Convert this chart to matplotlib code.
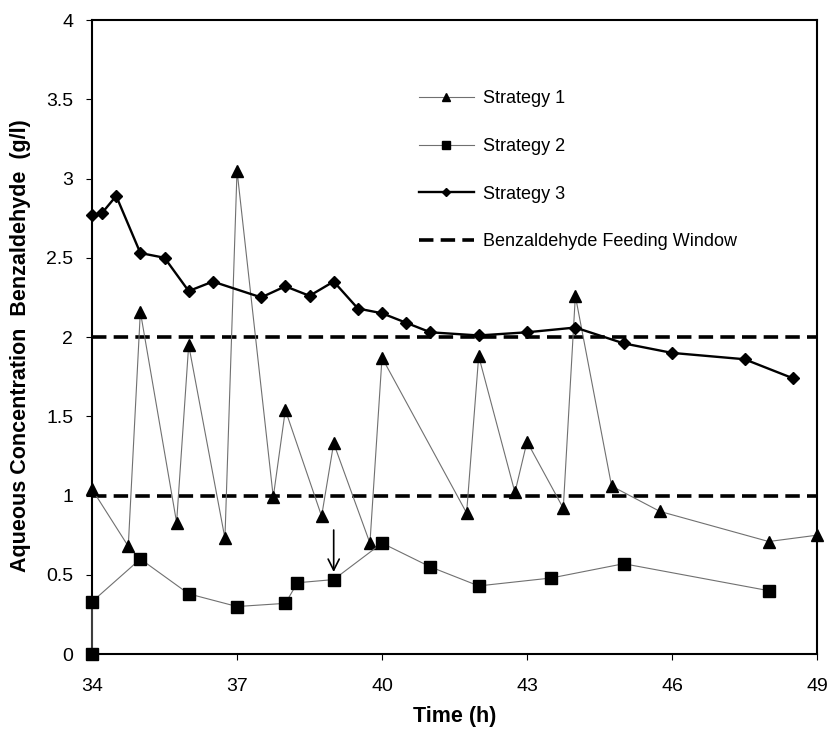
import matplotlib.pyplot as plt

plt.rcParams['font.family'] = ['Liberation Sans', 'DejaVu Sans']

# Strategy 1 (triangles)
t1 = [34, 34.75, 35, 35.75, 36, 36.75, 37, 37.75, 38, 38.75, 39, 39.75, 40,
      41.75, 42, 42.75, 43, 43.75, 44, 44.75, 45.75, 48, 49]
c1 = [1.04, 0.68, 2.16, 0.83, 1.95, 0.73, 3.05, 0.99, 1.54, 0.87, 1.33, 0.70, 1.87,
      0.89, 1.88, 1.02, 1.34, 0.92, 2.26, 1.06, 0.90, 0.71, 0.75]

# Strategy 2 (squares)
t2 = [34, 34, 35, 36, 37, 38, 38.25, 39, 40, 41, 42, 43.5, 45, 48]
c2 = [0.0, 0.33, 0.60, 0.38, 0.30, 0.32, 0.45, 0.47, 0.70, 0.55, 0.43, 0.48, 0.57, 0.40]

# Strategy 3 (diamonds)
t3 = [34, 34.2, 34.5, 35, 35.5, 36, 36.5, 37.5, 38, 38.5, 39, 39.5, 40, 40.5,
      41, 42, 43, 44, 45, 46, 47.5, 48.5]
c3 = [2.77, 2.78, 2.89, 2.53, 2.50, 2.29, 2.35, 2.25, 2.32, 2.26, 2.35, 2.18, 2.15, 2.09,
      2.03, 2.01, 2.03, 2.06, 1.96, 1.90, 1.86, 1.74]

window = [1.0, 2.0]
xticks = [34, 37, 40, 43, 46, 49]
yticks = [0, 0.5, 1, 1.5, 2, 2.5, 3, 3.5, 4]

fig = plt.figure(figsize=(8.32, 7.3), dpi=100)
ax = fig.add_axes([0.1106, 0.104, 0.8714, 0.8686])

ax.plot(t1, c1, color='#707070', lw=0.8, marker='^', ms=9,
        mfc='black', mec='black', label='Strategy 1', clip_on=False, zorder=3)
ax.plot(t2, c2, color='#707070', lw=0.8, marker='s', ms=8.5,
        mfc='black', mec='black', label='Strategy 2', clip_on=False, zorder=3)
ax.plot(t3, c3, color='black', lw=1.7, marker='D', ms=6.5,
        mfc='black', mec='black', label='Strategy 3', clip_on=False, zorder=3)
for i, w in enumerate(window):
    ax.axhline(w, color='black', lw=2.6, ls=(0, (4, 2)),
               label='Benzaldehyde Feeding Window' if i == 0 else None, zorder=2)

ax.annotate('', xy=(39, 0.50), xytext=(39, 0.80),
            arrowprops=dict(arrowstyle='->', color='black', lw=1.2,
                            mutation_scale=20))

ax.set_xlim(34, 49)
ax.set_ylim(0, 4)
ax.set_xticks(xticks)
ax.set_yticks(yticks)
ax.set_yticklabels(['0', '0.5', '1', '1.5', '2', '2.5', '3', '3.5', '4'])
ax.tick_params(direction='out', length=4.5, width=0.8, labelsize=14)
ax.tick_params(axis='x', pad=13)
ax.tick_params(axis='y', pad=9)
for s in ax.spines.values():
    s.set_linewidth(1.5)

ax.set_xlabel('Time (h)', fontsize=15.5, fontweight='bold', labelpad=8)
ax.set_ylabel('Aqueous Concentration  Benzaldehyde  (g/l)', fontsize=15.5,
              fontweight='bold')
ax.yaxis.set_label_coords(-0.084, 0.487)

ax.legend(loc='upper left', bbox_to_anchor=(0.428, 0.915), frameon=False,
          fontsize=13, handlelength=3.05, handletextpad=0.5, labelspacing=1.7,
          markerscale=0.6)

plt.savefig('out.png')
